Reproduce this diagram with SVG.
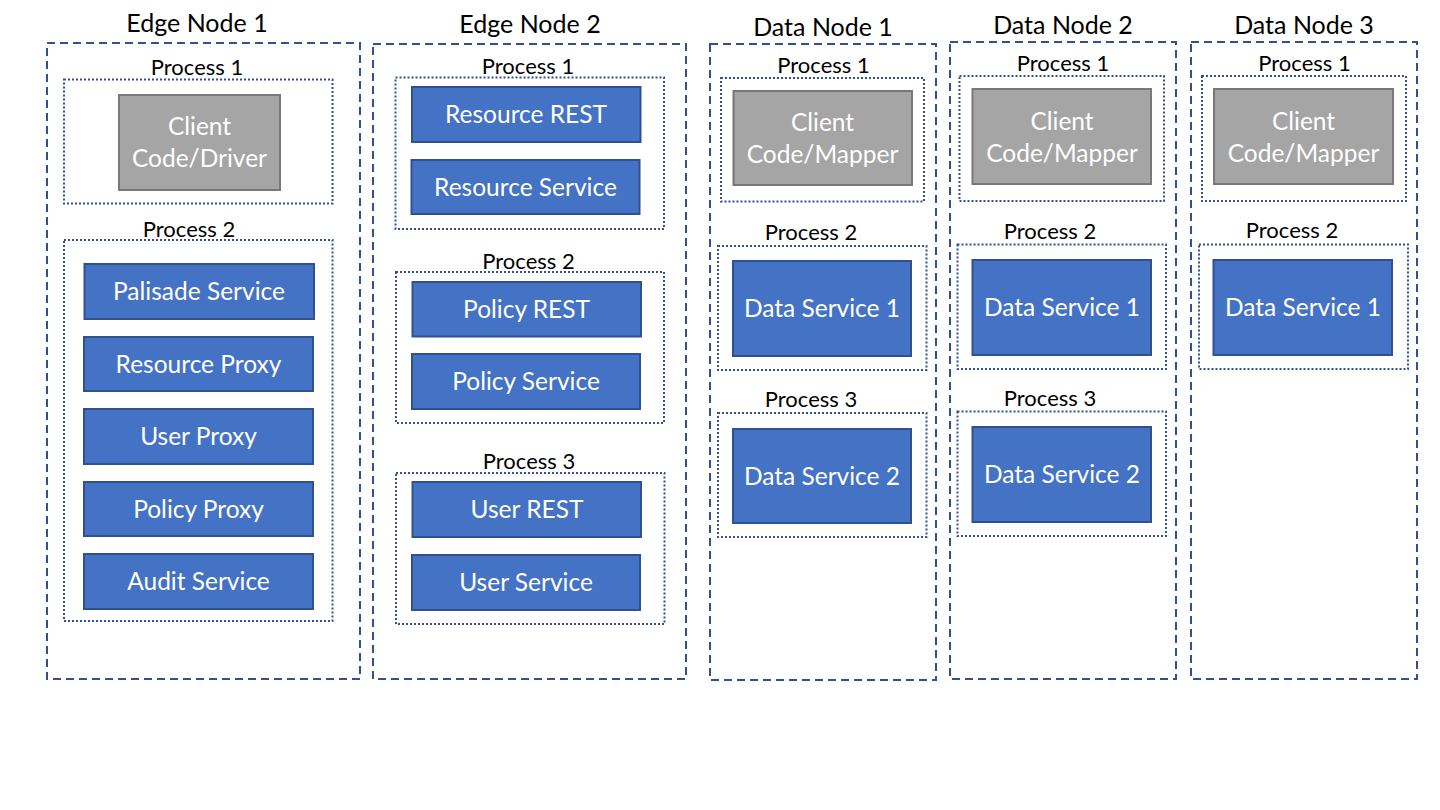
<svg xmlns="http://www.w3.org/2000/svg" width="1440" height="810" viewBox="0 0 1440 810">
<style>
  text { font-family: Lato, "Open Sans", "Liberation Sans", sans-serif; text-anchor: middle; }
  .node { fill: none; stroke: #2F528F; stroke-width: 2; stroke-dasharray: 8 5; }
  .proc { fill: none; stroke: #2F528F; stroke-width: 2; stroke-dasharray: 2 2; }
  .svc { fill: #4472C4; stroke: #2F528F; stroke-width: 2; }
  .cli { fill: #A5A5A5; stroke: #787878; stroke-width: 2; }
  .title { font-size: 25px; fill: #000; }
  .plabel { font-size: 22px; fill: #000; }
  .btext { font-size: 24.5px; fill: #FFFFFF; }
</style>
<rect width="1440" height="810" fill="#FFFFFF"/>

<g id="edge-node-1">
  <rect class="node" x="47" y="43" width="313" height="636"/>
  <text class="title" x="197" y="32">Edge Node 1</text>
  <g id="en1-process-1">
    <rect class="proc" x="64" y="79.5" width="268.5" height="124"/>
    <text class="plabel" x="197" y="75">Process 1</text>
    <g id="en1-client">
      <rect class="cli" x="119" y="95" width="161" height="95"/>
      <text class="btext" x="199.5" y="135">Client</text>
      <text class="btext" x="199.5" y="167">Code/Driver</text>
    </g>
  </g>
  <g id="en1-process-2">
    <rect class="proc" x="64" y="240" width="268.5" height="381"/>
    <text class="plabel" x="189" y="237">Process 2</text>
    <g id="en1-palisade"><rect class="svc" x="84.5" y="264" width="229.5" height="55"/><text class="btext" x="199" y="300">Palisade Service</text></g>
    <g id="en1-resource-proxy"><rect class="svc" x="84" y="337" width="229" height="54"/><text class="btext" x="198.5" y="372.5">Resource Proxy</text></g>
    <g id="en1-user-proxy"><rect class="svc" x="84" y="409" width="229" height="55"/><text class="btext" x="198.5" y="445">User Proxy</text></g>
    <g id="en1-policy-proxy"><rect class="svc" x="84" y="482" width="229" height="54"/><text class="btext" x="198.5" y="517.5">Policy Proxy</text></g>
    <g id="en1-audit"><rect class="svc" x="84" y="554" width="229" height="55"/><text class="btext" x="198.5" y="590">Audit Service</text></g>
  </g>
</g>

<g id="edge-node-2">
  <rect class="node" x="373" y="44" width="313" height="635"/>
  <text class="title" x="530" y="32.5">Edge Node 2</text>
  <g id="en2-process-1">
    <rect class="proc" x="395.5" y="77.5" width="268.5" height="151.5"/>
    <text class="plabel" x="528" y="74">Process 1</text>
    <g id="en2-resource-rest"><rect class="svc" x="412" y="87" width="228.5" height="55"/><text class="btext" x="526" y="123">Resource REST</text></g>
    <g id="en2-resource-service"><rect class="svc" x="411.5" y="160" width="228" height="54"/><text class="btext" x="525.5" y="195.5">Resource Service</text></g>
  </g>
  <g id="en2-process-2">
    <rect class="proc" x="396" y="272" width="268" height="151"/>
    <text class="plabel" x="528.5" y="268.5">Process 2</text>
    <g id="en2-policy-rest"><rect class="svc" x="412.5" y="282" width="228.5" height="54.5"/><text class="btext" x="526.5" y="318">Policy REST</text></g>
    <g id="en2-policy-service"><rect class="svc" x="412" y="354" width="228" height="55"/><text class="btext" x="526" y="390">Policy Service</text></g>
  </g>
  <g id="en2-process-3">
    <rect class="proc" x="396" y="473" width="268.5" height="151"/>
    <text class="plabel" x="529" y="469">Process 3</text>
    <g id="en2-user-rest"><rect class="svc" x="412.5" y="482" width="228.5" height="55"/><text class="btext" x="527" y="518">User REST</text></g>
    <g id="en2-user-service"><rect class="svc" x="412" y="555" width="228" height="55"/><text class="btext" x="526" y="591">User Service</text></g>
  </g>
</g>

<g id="data-node-1">
  <rect class="node" x="710" y="44" width="226" height="636"/>
  <text class="title" x="823" y="36">Data Node 1</text>
  <g id="dn1-process-1">
    <rect class="proc" x="721" y="78" width="203" height="123.5"/>
    <text class="plabel" x="823.5" y="73">Process 1</text>
    <g id="dn1-client">
      <rect class="cli" x="733.5" y="91" width="178.5" height="94"/>
      <text class="btext" x="822.5" y="131">Client</text>
      <text class="btext" x="822.5" y="163">Code/Mapper</text>
    </g>
  </g>
  <g id="dn1-process-2">
    <rect class="proc" x="718" y="246" width="208.5" height="124"/>
    <text class="plabel" x="811" y="240">Process 2</text>
    <g id="dn1-data-service-1"><rect class="svc" x="733" y="261" width="178" height="95"/><text class="btext" x="822" y="317">Data Service 1</text></g>
  </g>
  <g id="dn1-process-3">
    <rect class="proc" x="718" y="413" width="208.5" height="124"/>
    <text class="plabel" x="811" y="407">Process 3</text>
    <g id="dn1-data-service-2"><rect class="svc" x="733" y="429" width="178" height="94"/><text class="btext" x="822" y="484.5">Data Service 2</text></g>
  </g>
</g>

<g id="data-node-2">
  <rect class="node" x="950" y="42" width="226" height="637"/>
  <text class="title" x="1063" y="34">Data Node 2</text>
  <g id="dn2-process-1">
    <rect class="proc" x="959.5" y="76" width="204.5" height="125"/>
    <text class="plabel" x="1063" y="71">Process 1</text>
    <g id="dn2-client">
      <rect class="cli" x="972.5" y="89" width="178.5" height="95"/>
      <text class="btext" x="1062" y="129.5">Client</text>
      <text class="btext" x="1062" y="161.5">Code/Mapper</text>
    </g>
  </g>
  <g id="dn2-process-2">
    <rect class="proc" x="957.5" y="244.5" width="208.5" height="124.5"/>
    <text class="plabel" x="1050" y="239">Process 2</text>
    <g id="dn2-data-service-1"><rect class="svc" x="972.5" y="260" width="178.5" height="95"/><text class="btext" x="1062" y="316">Data Service 1</text></g>
  </g>
  <g id="dn2-process-3">
    <rect class="proc" x="957.5" y="411.5" width="208.5" height="124.5"/>
    <text class="plabel" x="1050" y="406">Process 3</text>
    <g id="dn2-data-service-2"><rect class="svc" x="972.5" y="427" width="178.5" height="95"/><text class="btext" x="1062" y="483">Data Service 2</text></g>
  </g>
</g>

<g id="data-node-3">
  <rect class="node" x="1191" y="42" width="226" height="637"/>
  <text class="title" x="1304" y="34">Data Node 3</text>
  <g id="dn3-process-1">
    <rect class="proc" x="1202" y="76" width="204" height="125"/>
    <text class="plabel" x="1304.5" y="71">Process 1</text>
    <g id="dn3-client">
      <rect class="cli" x="1214" y="89" width="179" height="95"/>
      <text class="btext" x="1303.5" y="129.5">Client</text>
      <text class="btext" x="1303.5" y="161.5">Code/Mapper</text>
    </g>
  </g>
  <g id="dn3-process-2">
    <rect class="proc" x="1199" y="244.5" width="209" height="124.5"/>
    <text class="plabel" x="1292" y="238">Process 2</text>
    <g id="dn3-data-service-1"><rect class="svc" x="1213.5" y="260" width="178.5" height="95"/><text class="btext" x="1303" y="316">Data Service 1</text></g>
  </g>
</g>

<g id="connectors"></g>
</svg>
